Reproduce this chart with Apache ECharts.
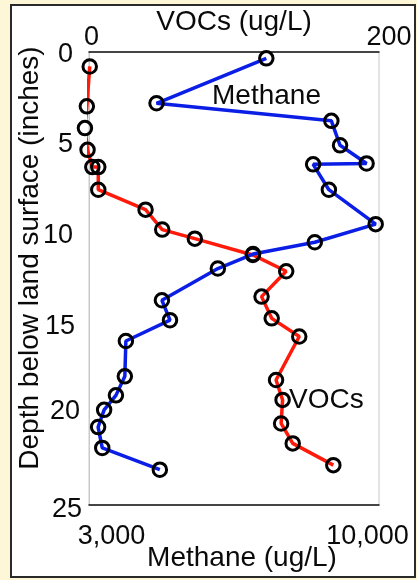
<!DOCTYPE html>
<html>
<head>
<meta charset="utf-8">
<script src="https://cdn.jsdelivr.net/npm/echarts@6/dist/echarts.min.js"></script>
<style>
html,body{margin:0;padding:0;background:#fdf6d7;}
#chart{width:417px;height:580px;}
</style>
</head>
<body>
<div id="chart"></div>
<script>
// Depth (inches) and values
const methaneDepth = [0.35, 2.83, 3.8, 5.15, 6.15, 6.2, 7.6, 9.5, 10.5, 11.15, 11.95, 13.7, 14.8, 15.95, 17.9, 18.95, 19.75, 20.7, 21.85, 23.05];
const methaneValues = [7280, 4630, 8850, 9060, 9700, 8410, 8790, 9920, 8450, 6960, 6110, 4760, 4955, 3890, 3865, 3650, 3365, 3220, 3320, 4710];

const vocDepth = [0.8, 3.0, 4.2, 5.4, 6.35, 6.35, 7.6, 8.7, 9.8, 10.3, 11.2, 12.1, 13.5, 14.7, 15.7, 18.1, 19.2, 20.5, 21.6, 22.8];
const vocValues = [0.5, -1.5, -2.8, -1, 2.3, 6.4, 6.4, 39, 50.5, 73, 113, 136, 119, 126, 145, 129, 133.5, 132.5, 140.5, 168.5];

const depthTicks = [0, 5, 10, 15, 20, 25];
const vocTicks = [0, 200];
const methaneTicks = [3000, 10000];
const methaneTickLabels = ['3,000', '10,000'];

const FONT = 'Liberation Sans, Arial, sans-serif';
const TXT = '#0a0a0a';
const FS = 27;

const chart = echarts.init(document.getElementById('chart'), null, {renderer: 'canvas'});

const yRich = {
  d0: {padding: [5, 9, 0, 0]},
  d5: {padding: [4, 9, 0, 0]},
  d10: {padding: [4, 9, 0, 0]},
  d15: {padding: [6, 7, 0, 0]},
  d20: {padding: [0, 2, 6, 0]},
  d25: {padding: [10, 0, 0, 0]}
};
Object.values(yRich).forEach(s => { s.fontSize = FS; s.fontFamily = FONT; s.color = TXT; s.lineHeight = 26; });

const option = {
  backgroundColor: '#fdf6d7',
  animation: false,
  graphic: [
    {type: 'rect', z: -100, shape: {x: 11, y: 5, width: 404, height: 572},
     style: {fill: '#ffffff', stroke: '#2a2a2a', lineWidth: 2}},
    {type: 'text', x: 30, y: 258, rotation: Math.PI / 2,
     style: {text: 'Depth below land surface (inches)', fontSize: 28, fontFamily: FONT, fill: TXT,
             align: 'center', verticalAlign: 'middle'}},
    {type: 'text', x: 212, y: 96,
     style: {text: 'Methane', fontSize: 28, fontFamily: FONT, fill: TXT, align: 'left', verticalAlign: 'middle'}},
    {type: 'text', x: 289, y: 400,
     style: {text: 'VOCs', fontSize: 28, fontFamily: FONT, fill: TXT, align: 'left', verticalAlign: 'middle'}}
  ],
  grid: {left: 89, top: 52, width: 290, height: 453, show: true, backgroundColor: '#ffffff',
         borderColor: '#c8c8c8', borderWidth: 1, containLabel: false, outerBoundsMode: 'none'},
  xAxis: [
    {
      type: 'value', position: 'top', min: vocTicks[0], max: vocTicks[1], interval: 200,
      name: 'VOCs (ug/L)', nameLocation: 'middle', nameGap: 16, nameMoveOverlap: false,
      nameTextStyle: {fontSize: 28, fontFamily: FONT, color: TXT, lineHeight: 28},
      axisLine: {show: true, lineStyle: {color: '#111', width: 1.5}},
      axisTick: {show: false}, splitLine: {show: false},
      axisLabel: {
        margin: 1,
        formatter: v => v === vocTicks[0] ? '{a|' + v + '}' : (v === vocTicks[1] ? '{b|' + v + '}' : ''),
        rich: {
          a: {fontSize: FS, fontFamily: FONT, color: TXT, lineHeight: 26, padding: [0, 0, 0, 5]},
          b: {fontSize: FS, fontFamily: FONT, color: TXT, lineHeight: 26, padding: [0, 0, 0, 20]}
        }
      }
    },
    {
      type: 'value', position: 'bottom', min: methaneTicks[0], max: methaneTicks[1], interval: 1000,
      name: 'Methane (ug/L)', nameLocation: 'middle', nameGap: 39, nameMoveOverlap: false,
      nameTextStyle: {fontSize: 28, fontFamily: FONT, color: TXT, lineHeight: 28, padding: [0, 0, 0, 16]},
      axisLine: {show: true, lineStyle: {color: '#111', width: 1.5}},
      axisTick: {show: false}, splitLine: {show: false},
      axisLabel: {
        margin: 19,
        formatter: v => v === methaneTicks[0] ? '{a|' + methaneTickLabels[0] + '}' :
                        (v === methaneTicks[1] ? '{b|' + methaneTickLabels[1] + '}' : ''),
        rich: {
          a: {fontSize: FS, fontFamily: FONT, color: TXT, lineHeight: 26, padding: [0, 0, 0, 45]},
          b: {fontSize: FS, fontFamily: FONT, color: TXT, lineHeight: 26, padding: [0, 23, 0, 0]}
        }
      }
    }
  ],
  yAxis: {
    type: 'value', inverse: true, min: depthTicks[0], max: depthTicks[depthTicks.length - 1], interval: 5,
    axisLine: {show: true, lineStyle: {color: '#c8c8c8', width: 1}},
    axisTick: {show: false}, splitLine: {show: false},
    axisLabel: {
      margin: 7,
      formatter: v => '{d' + v + '|' + v + '}',
      rich: yRich
    }
  },
  series: [
    {
      type: 'line', name: 'VOCs', xAxisIndex: 0, clip: false, z: 3,
      data: vocValues.map((v, i) => [v, vocDepth[i]]),
      lineStyle: {color: '#ff1a0a', width: 3.5},
      symbol: 'circle', symbolSize: 13.5,
      itemStyle: {color: 'rgba(0,0,0,0)', borderColor: '#000', borderWidth: 3}
    },
    {
      type: 'line', name: 'Methane', xAxisIndex: 1, clip: false, z: 4,
      data: methaneValues.map((v, i) => [v, methaneDepth[i]]),
      lineStyle: {color: '#0a1ee6', width: 3.5},
      symbol: 'circle', symbolSize: 13.5,
      itemStyle: {color: 'rgba(0,0,0,0)', borderColor: '#000', borderWidth: 3}
    }
  ]
};
chart.setOption(option);
</script>
</body>
</html>
